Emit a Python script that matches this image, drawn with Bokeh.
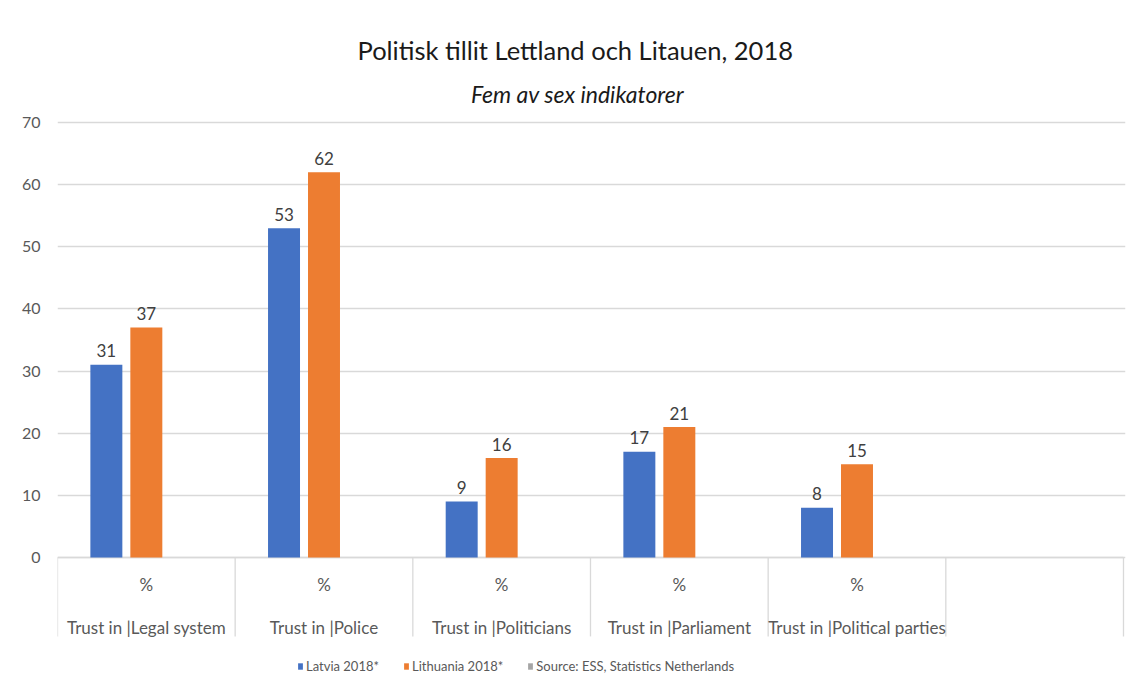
from bokeh.plotting import figure
from bokeh.models import ColumnDataSource, FixedTicker, Range1d, Legend, LegendItem
from bokeh.core.properties import value
from bokeh.embed import file_html
from bokeh.resources import INLINE

# ---- data ----
title_text = "Politisk tillit Lettland och Litauen, 2018"
subtitle_text = "Fem av sex indikatorer"
categories = ["Legal system", "Police", "Politicians", "Parliament", "Political parties", ""]
level1 = ["%", "%", "%", "%", "%", ""]
prefix = "Trust in |"
latvia = [31, 53, 9, 17, 8]
lithuania = [37, 62, 16, 21, 15]
source = [0, 0, 0, 0, 0]
y_ticks = [0, 10, 20, 30, 40, 50, 60, 70]
series_names = ["Latvia 2018*", "Lithuania 2018*", "Source: ESS, Statistics Netherlands"]
colors = ["#4472C4", "#ED7D31", "#A5A5A5"]

FONT = "Lato"
n_cat = len(categories)
centers = [i + 0.5 for i in range(n_cat)]
bar_w = 0.18
step = 0.225

# canvas origin at page (0, 0); frame: x 57..1125, y 73..688
p = figure(width=1126, height=688, output_backend="svg", toolbar_location=None,
           x_range=Range1d(0, n_cat + 0.0113), y_range=Range1d(-21.08, 77.89),
           x_axis_type=None, min_border_left=57, min_border_right=1,
           min_border_top=73, min_border_bottom=0)
p.outline_line_color = None
p.background_fill_color = "white"
p.border_fill_color = "white"

# title
p.title.text = title_text
p.title.align = "left"
p.title.offset = 300
p.title.text_font = FONT
p.title.text_font_size = "25.5px"
p.title.text_font_style = "normal"
p.title.text_color = "#1a1a1a"
p.title.standoff = 18

# subtitle
p.text(x=[2.927], y=[74.67], text=[subtitle_text], text_align="center",
       text_baseline="alphabetic", text_font=value(FONT), text_font_size="23px",
       text_font_style="italic", text_color="#1a1a1a")

# y axis
p.yaxis.ticker = FixedTicker(ticks=y_ticks)
p.yaxis.axis_line_color = None
p.yaxis.major_tick_line_color = None
p.yaxis.minor_tick_line_color = None
p.yaxis.major_tick_out = 0
p.yaxis.major_tick_in = 0
p.yaxis.major_label_text_font = FONT
p.yaxis.major_label_text_font_size = "16px"
p.yaxis.major_label_text_color = "#595959"
p.yaxis.major_label_standoff = 17
p.ygrid.ticker = FixedTicker(ticks=y_ticks)
p.ygrid.grid_line_color = "#d9d9d9"
p.ygrid.grid_line_width = 1.3
p.xgrid.visible = False

# category axis: baseline + separators
p.segment(x0=[0], y0=[0], x1=[n_cat], y1=[0], line_color="#d9d9d9", line_width=1.3)
p.segment(x0=list(range(n_cat + 1)), y0=[0] * (n_cat + 1),
          x1=list(range(n_cat + 1)), y1=[-12.7] * (n_cat + 1),
          line_color="#d9d9d9", line_width=1.3)
p.text(x=centers, y=[-4.35] * n_cat, text=level1, text_align="center",
       text_baseline="middle", text_font=value(FONT), text_font_size="17px",
       text_color="#595959")
p.text(x=centers, y=[-11.2] * n_cat,
       text=[(prefix + c) if c else "" for c in categories], text_align="center",
       text_baseline="middle", text_font=value(FONT), text_font_size="17px",
       text_color="#595959")

# bars
renderers = []
for k, (vals, col) in enumerate(zip([latvia, lithuania, source], colors)):
    xs = [centers[i] + (k - 1) * step for i in range(len(vals))]
    src = ColumnDataSource(dict(x=xs, top=vals, lab=[str(v) for v in vals]))
    r = p.vbar(x="x", top="top", bottom=0, width=bar_w, source=src,
               fill_color=col, line_color=None)
    renderers.append(r)
    if k < 2:
        p.text(x="x", y="top", text="lab", source=src, text_align="center",
               text_baseline="alphabetic", y_offset=-14, text_font=value(FONT),
               text_font_size="17px", text_color="#404040")

legend = Legend(items=[LegendItem(label=n, renderers=[r]) for n, r in zip(series_names, renderers)],
                orientation="horizontal", location=(240, 14), padding=0, margin=0,
                spacing=24, glyph_width=6, glyph_height=8, label_standoff=3,
                label_text_font=FONT, label_text_font_size="13px",
                label_text_color="#595959", border_line_color=None,
                background_fill_alpha=0)
p.add_layout(legend)

open("out.html", "w").write(file_html(p, INLINE))
